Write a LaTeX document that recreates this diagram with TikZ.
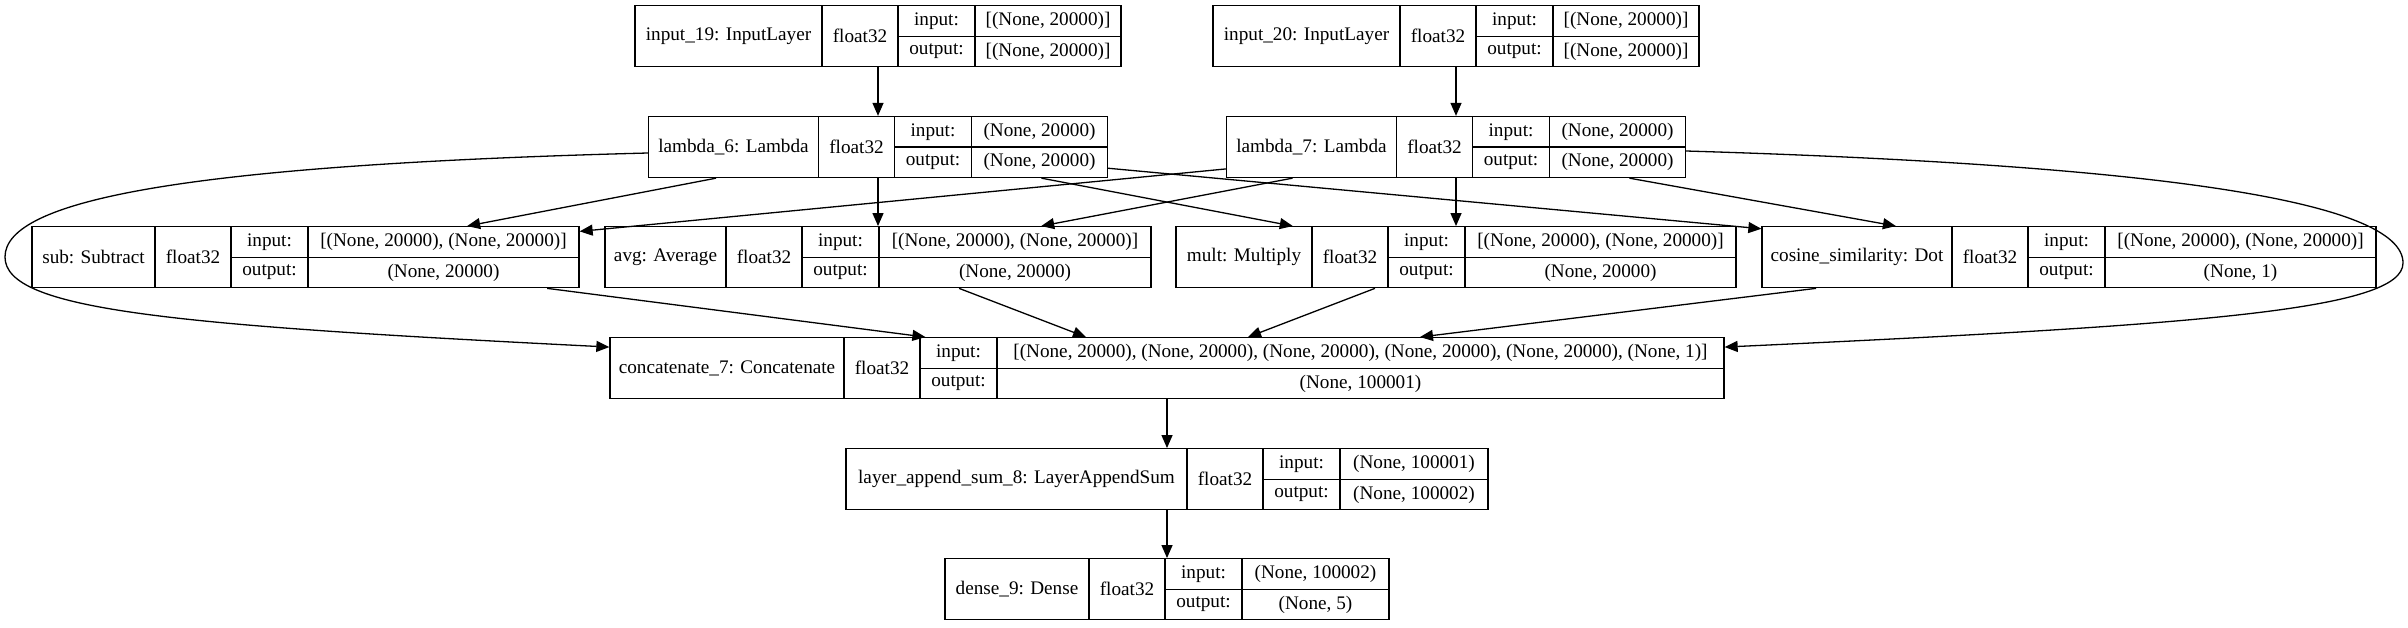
\documentclass[tikz,border=0pt]{standalone}
\usepackage{fontspec}
\setmainfont{Liberation Serif}
\usetikzlibrary{arrows.meta}
\usetikzlibrary{calc}

% one keras layer record: id, centre y, left, name|dtype split, right, name, input, output
\newcommand{\layerbox}[8]{%
  \node[layer, minimum width={#5-#3}] (#1) at ({(#3+#5)/2},#2) {};
  \draw[cell] (#4,{#2-30.5}) -- (#4,{#2+30.5});
  \draw[cell] ({#4+76},{#2-30.5}) -- ({#4+76},{#2+30.5});
  \draw[cell] ({#4+153},{#2-30.5}) -- ({#4+153},{#2+30.5});
  \draw[cell] ({#4+76},#2) -- (#5,#2);
  \node[txt] (#1n) at ({(#3+#4)/2},#2) {#6};
  \node[txt] (#1d) at ({#4+38},#2) {float32};
  \node[txt] (#1i) at ({#4+114.5},{#2-15.25}) {input:};
  \node[txt] (#1o) at ({#4+114.5},{#2+15.25}) {output:};
  \node[txt] (#1iv) at ({(#4+153+#5)/2},{#2-15.25}) {#7};
  \node[txt] (#1ov) at ({(#4+153+#5)/2},{#2+15.25}) {#8};
}

\begin{document}
\begin{tikzpicture}[x=1pt,y=-1pt,
    layer/.style={draw, rectangle, line width=1.3pt, minimum height=61pt, inner sep=0pt},
    cell/.style={line width=1.3pt},
    txt/.style={inner sep=0pt, font=\fontsize{19.2}{23}\selectfont},
    edge/.style={line width=1.3pt, -{Triangle[length=13pt,width=11pt]}}]
  \fill[white] (0,0) rectangle (2408,627);
  \useasboundingbox (0,0) rectangle (2408,627);

  \layerbox{in19}{36.2}{635}{822}{1121}{input\_19: InputLayer}{[(None, 20000)]}{[(None, 20000)]}
  \layerbox{in20}{36.2}{1213}{1400}{1699}{input\_20: InputLayer}{[(None, 20000)]}{[(None, 20000)]}
  \layerbox{lam6}{147}{648.5}{818.5}{1107.5}{lambda\_6: Lambda}{(None, 20000)}{(None, 20000)}
  \layerbox{lam7}{147}{1226.5}{1396.5}{1685.5}{lambda\_7: Lambda}{(None, 20000)}{(None, 20000)}
  \layerbox{sub}{257.2}{32}{155}{579}{sub: Subtract}{[(None, 20000), (None, 20000)]}{(None, 20000)}
  \layerbox{avg}{257.2}{605}{726}{1151}{avg: Average}{[(None, 20000), (None, 20000)]}{(None, 20000)}
  \layerbox{mult}{257.2}{1176}{1312}{1736}{mult: Multiply}{[(None, 20000), (None, 20000)]}{(None, 20000)}
  \layerbox{cos}{257.2}{1762}{1952}{2376}{cosine\_similarity: Dot}{[(None, 20000), (None, 20000)]}{(None, 1)}
  \layerbox{concat}{368.2}{610}{844}{1724}{concatenate\_7: Concatenate}{[(None, 20000), (None, 20000), (None, 20000), (None, 20000), (None, 20000), (None, 1)]}{(None, 100001)}
  \layerbox{layer}{479.2}{846}{1187}{1488}{layer\_append\_sum\_8: LayerAppendSum}{(None, 100001)}{(None, 100002)}
  \layerbox{dense}{589.2}{945}{1089}{1389}{dense\_9: Dense}{(None, 100002)}{(None, 5)}

  \coordinate (loopL) at (5,257);
  \coordinate (loopR) at (2403,263);

  \draw[edge] (in19) -- (lam6);
  \draw[edge] (in20) -- (lam7);
  \draw[edge] (lam6) -- (sub);
  \draw[edge] (lam6) -- (avg);
  \draw[edge] (lam6) -- (mult);
  \draw[edge] (lam6) -- (cos);
  \draw[edge] (lam7) -- (sub);
  \draw[edge] (lam7) -- (avg);
  \draw[edge] (lam7) -- (mult);
  \draw[edge] (lam7) -- (cos);
  \draw[edge] ([yshift=-6pt]lam6.west) .. controls (185,165) and (5,200) .. (loopL)
      .. controls (5,310) and (170,325) .. ($(concat.north west)+(0,10)$);
  \draw[edge] ([yshift=-4pt]lam7.east) .. controls (2150,165) and (2403,200) .. (loopR)
      .. controls (2403,310) and (2200,325) .. ($(concat.north east)+(0,10)$);
  \draw[edge] (sub) -- (concat);
  \draw[edge] (avg) -- (concat);
  \draw[edge] (mult) -- (concat);
  \draw[edge] (cos) -- (concat);
  \draw[edge] (concat) -- (layer);
  \draw[edge] (layer) -- (dense);
\end{tikzpicture}
\end{document}
